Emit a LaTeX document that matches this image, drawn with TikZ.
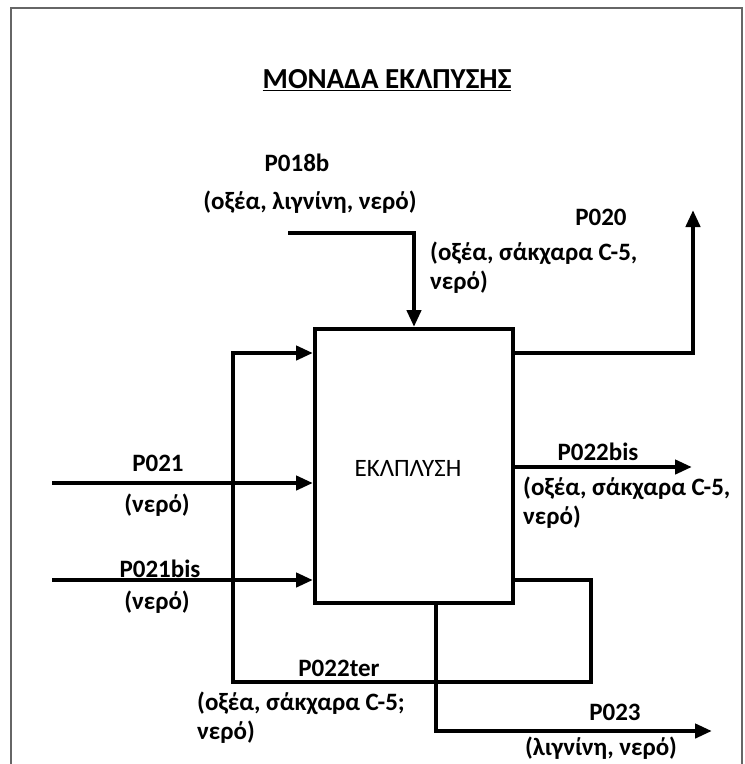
\documentclass[tikz,border=0pt]{standalone}
\usepackage{fontspec}
\setmainfont{Carlito}
\usetikzlibrary{arrows.meta}

\begin{document}
\begin{tikzpicture}[x=1pt,y=-1pt,
  flow/.style={line width=4.5pt},
  >={Triangle[length=17pt,width=14pt]},
  my label/.style={inner sep=0pt,font=\bfseries\fontsize{25}{29}\selectfont},
  my text/.style={my label,align=left,anchor=west}]
  % FRAME
  \useasboundingbox (0,0) rectangle (745,764);
  \draw[black!60,line width=2pt] (11,764) -- (11,8) -- (742,8) -- (742,764);
  % NODES
  \node[inner sep=0pt,font=\bfseries\fontsize{29}{32}\selectfont] (title) at (387,80) {\underline{ΜΟΝΑΔΑ ΕΚΛΠΥΣΗΣ}};
  \node[draw,line width=4pt,minimum width=198pt,minimum height=274pt] (unit) at (414,466) {};
  \node[inner sep=0pt,font=\fontsize{25}{28}\selectfont] (unittext) at (408,468) {ΕΚΛΠΛΥΣΗ};
  \node[my label] (lbl18) at (297,163) {P018b};
  \node[my label] (txt18) at (310,202) {(οξέα, λιγνίνη, νερό)};
  \node[my label] (lbl20) at (601,217) {P020};
  \node[my text] (txt20) at (430,268) {(οξέα, σάκχαρα C-5,\\νερό)};
  \node[my label] (lbl21) at (158,463) {P021};
  \node[my label] (txt21) at (157,505) {(νερό)};
  \node[my label] (lbl21b) at (160,569) {P021bis};
  \node[my label] (txt21b) at (157,602) {(νερό)};
  \node[my label] (lbl22b) at (598,452) {P022bis};
  \node[my text] (txt22b) at (523,503) {(οξέα, σάκχαρα C-5,\\νερό)};
  \node[my label] (lbl22t) at (339,668) {P022ter};
  \node[my text] (txt22t) at (197,718) {(οξέα, σάκχαρα C-5;\\νερό)};
  \node[my label] (lbl23) at (615,712) {P023};
  \node[my label] (txt23) at (601,748) {(λιγνίνη, νερό)};
  % POINTS
  \coordinate (in18) at (288,233);
  \coordinate (out20) at (693,210);
  \coordinate (ret) at (233,353);
  \coordinate (in21) at (52,483);
  \coordinate (in21b) at (52,580);
  \coordinate (out22b) at (692,467);
  \coordinate (loop) at (591,682);
  \coordinate (turn23) at (436,731);
  \coordinate (out23) at (712,731);
  % PATHS
  \draw[flow,->] (in18) -| (unit.north);
  \draw[flow,->] (ret -| unit.east) -| (out20);
  \draw[flow,->] (in21) -- (in21 -| unit.west);
  \draw[flow,->] (in21b) -- (in21b -| unit.west);
  \draw[flow,->] (out22b -| unit.east) -- (out22b);
  \draw[flow,->] (in21b -| unit.east) -| (loop) -| (ret) -- (ret -| unit.west);
  \draw[flow,->] (unit.south -| turn23) -- (turn23) -- (out23);
\end{tikzpicture}
\end{document}
